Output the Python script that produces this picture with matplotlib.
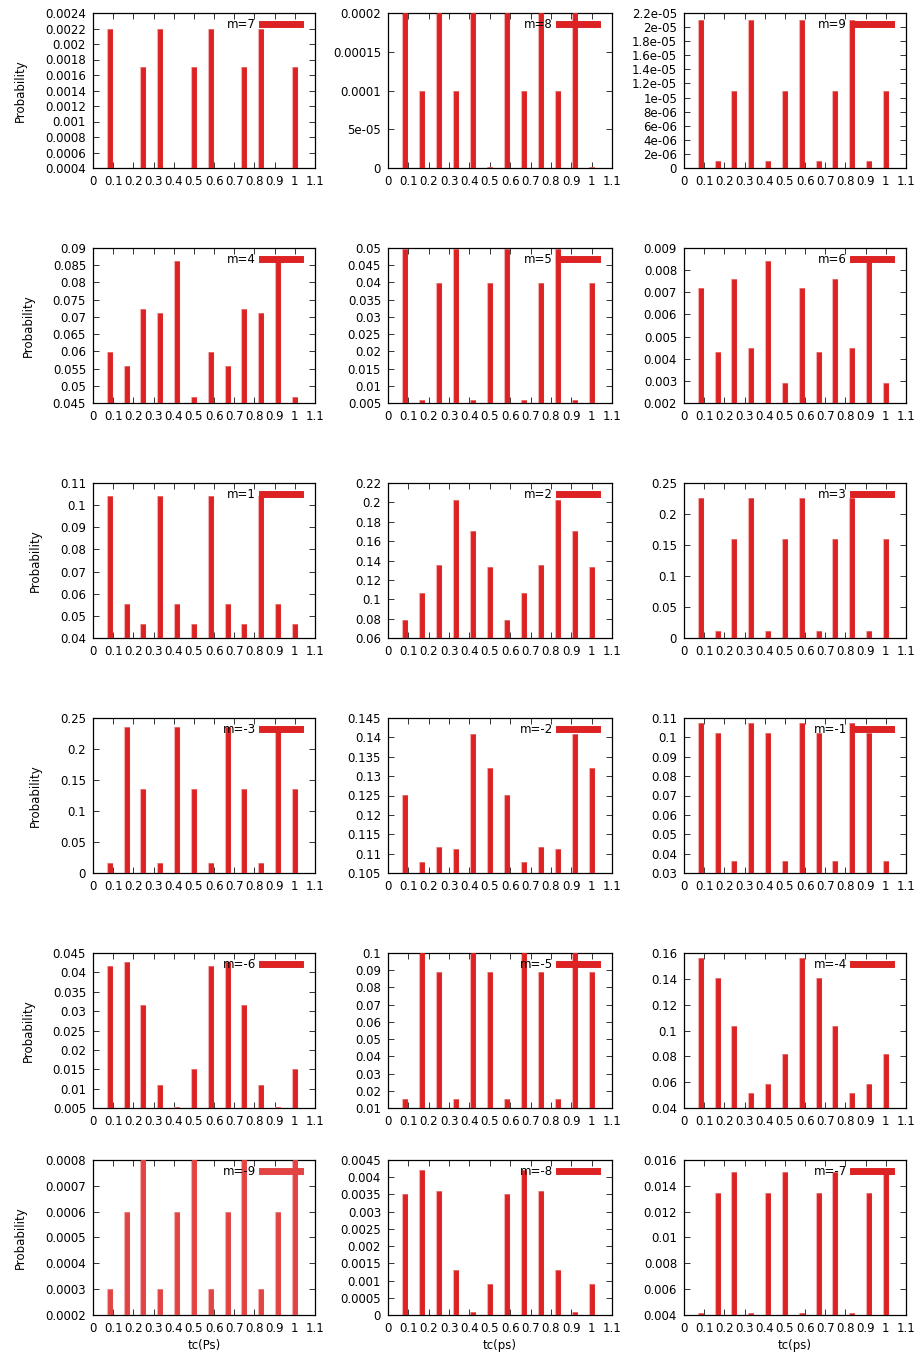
import numpy as np
import matplotlib
matplotlib.use("Agg")
import matplotlib.pyplot as plt
from matplotlib.lines import Line2D

plt.rcParams['font.family'] = ['DejaVu Sans']
plt.rcParams['font.size'] = 8.5

# ---- data ----
tc = [0.0833, 0.1667, 0.25, 0.3333, 0.4167, 0.5, 0.5833, 0.6667, 0.75, 0.8333, 0.9167, 1.0]

p_m7 = [0.0022, 0.0003, 0.0017, 0.0022, 0.0003, 0.0017, 0.0022, 0.0003, 0.0017, 0.0022, 0.0003, 0.0017]
p_m8 = [0.00022, 0.0001, 0.00022, 0.0001, 0.00022, 0.000001, 0.00022, 0.0001, 0.00022, 0.0001, 0.00022, 0.000001]
p_m9 = [2.1e-05, 1e-06, 1.1e-05, 2.1e-05, 1e-06, 1.1e-05, 2.1e-05, 1e-06, 1.1e-05, 2.1e-05, 1e-06, 1.1e-05]
p_m4 = [0.0597, 0.0557, 0.0723, 0.0710, 0.0862, 0.0468, 0.0597, 0.0557, 0.0723, 0.0710, 0.0862, 0.0468]
p_m5 = [0.0497, 0.0060, 0.0398, 0.0497, 0.0060, 0.0398, 0.0497, 0.0060, 0.0398, 0.0497, 0.0060, 0.0398]
p_m6 = [0.0072, 0.0043, 0.0076, 0.0045, 0.0084, 0.0029, 0.0072, 0.0043, 0.0076, 0.0045, 0.0084, 0.0029]
p_m1 = [0.1040, 0.0555, 0.0462, 0.1040, 0.0555, 0.0462, 0.1040, 0.0555, 0.0462, 0.1040, 0.0555, 0.0462]
p_m2 = [0.079, 0.106, 0.135, 0.202, 0.170, 0.1335, 0.079, 0.106, 0.135, 0.202, 0.170, 0.1335]
p_m3 = [0.226, 0.012, 0.160, 0.226, 0.012, 0.160, 0.226, 0.012, 0.160, 0.226, 0.012, 0.160]
p_mn3 = [0.016, 0.235, 0.136, 0.016, 0.235, 0.136, 0.016, 0.235, 0.136, 0.016, 0.235, 0.136]
p_mn2 = [0.1251, 0.1078, 0.1117, 0.1112, 0.1408, 0.1320, 0.1251, 0.1078, 0.1117, 0.1112, 0.1408, 0.1320]
p_mn1 = [0.1075, 0.1022, 0.0361, 0.1075, 0.1022, 0.0361, 0.1075, 0.1022, 0.0361, 0.1075, 0.1022, 0.0361]
p_mn6 = [0.0417, 0.0427, 0.0316, 0.0109, 0.0053, 0.0151, 0.0417, 0.0427, 0.0316, 0.0109, 0.0053, 0.0151]
p_mn5 = [0.0155, 0.1005, 0.0890, 0.0155, 0.1005, 0.0890, 0.0155, 0.1005, 0.0890, 0.0155, 0.1005, 0.0890]
p_mn4 = [0.156, 0.141, 0.1035, 0.052, 0.0588, 0.082, 0.156, 0.141, 0.1035, 0.052, 0.0588, 0.082]
p_mn9 = [0.0003, 0.0006, 0.00082, 0.0003, 0.0006, 0.00082, 0.0003, 0.0006, 0.00082, 0.0003, 0.0006, 0.00082]
p_mn8 = [0.0035, 0.0042, 0.0036, 0.0013, 0.0001, 0.0009, 0.0035, 0.0042, 0.0036, 0.0013, 0.0001, 0.0009]
p_mn7 = [0.00415, 0.01345, 0.0151, 0.00415, 0.01345, 0.0151, 0.00415, 0.01345, 0.0151, 0.00415, 0.01345, 0.0151]

labels = [["m=7", "m=8", "m=9"],
          ["m=4", "m=5", "m=6"],
          ["m=1", "m=2", "m=3"],
          ["m=-3", "m=-2", "m=-1"],
          ["m=-6", "m=-5", "m=-4"],
          ["m=-9", "m=-8", "m=-7"]]
values = [[p_m7, p_m8, p_m9],
          [p_m4, p_m5, p_m6],
          [p_m1, p_m2, p_m3],
          [p_mn3, p_mn2, p_mn1],
          [p_mn6, p_mn5, p_mn4],
          [p_mn9, p_mn8, p_mn7]]
# y ranges (low, high, step)
yranges = [[(0.0004, 0.0024, 0.0002), (0, 0.0002, 0.00005), (0, 2.2e-05, 2e-06)],
           [(0.045, 0.09, 0.005), (0.005, 0.05, 0.005), (0.002, 0.009, 0.001)],
           [(0.04, 0.11, 0.01), (0.06, 0.22, 0.02), (0, 0.25, 0.05)],
           [(0, 0.25, 0.05), (0.105, 0.145, 0.005), (0.03, 0.11, 0.01)],
           [(0.005, 0.045, 0.005), (0.01, 0.1, 0.01), (0.04, 0.16, 0.02)],
           [(0.0002, 0.0008, 0.0001), (0, 0.0045, 0.0005), (0.004, 0.016, 0.002)]]
xticks = [0, 0.1, 0.2, 0.3, 0.4, 0.5, 0.6, 0.7, 0.8, 0.9, 1.0, 1.1]
xlabels = ["tc(Ps)", "tc(ps)", "tc(ps)"]

# ---- layout (pixels) ----
W, H = 916, 1355
cols_px = [(93, 315), (388, 612), (684, 906)]
rows_px = [(13, 168), (248, 403), (483, 638), (718, 873), (953, 1108), (1160, 1315)]

RED = '#dc2222'
fig = plt.figure(figsize=(W / 100, H / 100), dpi=100)

for r in range(6):
    for c in range(3):
        x0, x1 = cols_px[c]
        y0, y1 = rows_px[r]
        ax = fig.add_axes([x0 / W, 1 - y1 / H, (x1 - x0) / W, (y1 - y0) / H])
        color = '#e24444' if (r == 5 and c == 0) else RED
        vals = values[r][c]
        ax.vlines(tc, 0, vals, colors='#f2b0b0', linewidth=4.4, zorder=2)
        ax.vlines(tc, 0, vals, colors=color, linewidth=3.5, zorder=3)
        lo, hi, st = yranges[r][c]
        yt = np.arange(lo, hi + st * 0.5, st)
        ax.set_ylim(lo, hi)
        ax.set_yticks(yt)
        ax.set_yticklabels(['%g' % round(v, 10) for v in yt])
        ax.set_xlim(0, 1.1)
        ax.set_xticks(xticks)
        ax.set_xticklabels(['%g' % v for v in xticks])
        ax.tick_params(direction='in', length=4, width=0.7, top=True, right=True,
                       labelsize=8.5, colors='#333333', labelcolor='black')
        ax.tick_params(axis='x', pad=5)
        ax.tick_params(axis='y', pad=5)
        for s in ax.spines.values():
            s.set_linewidth(0.9)
        h = Line2D([], [], color=color, linewidth=5)
        ax.legend([h], [labels[r][c]], loc='upper right', markerfirst=False,
                  frameon=False, handlelength=3.2, handletextpad=0.55,
                  borderpad=0, borderaxespad=0, fontsize=8.5,
                  bbox_to_anchor=(1 - 15 / (x1 - x0), 1 - 5 / (y1 - y0)))
        if c == 0:
            ax.set_ylabel("Probability", fontsize=8.5, labelpad=13)
        if r == 5:
            ax.set_xlabel(xlabels[c], fontsize=8.5, labelpad=3)

fig.savefig("out.png", dpi=100)
